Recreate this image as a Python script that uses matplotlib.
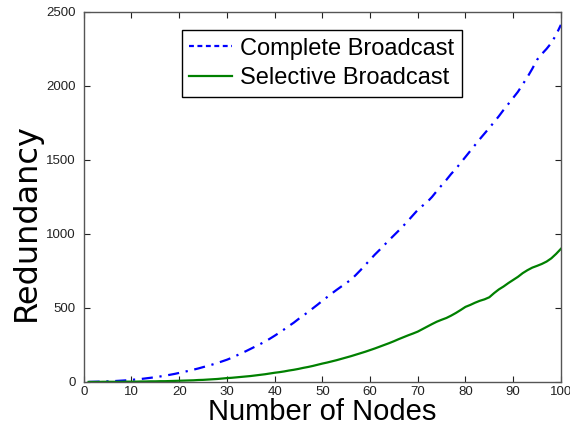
import matplotlib

matplotlib.use("Agg")
import matplotlib.pyplot as plt
from matplotlib.lines import Line2D

plt.rcParams["font.family"] = ["Liberation Sans", "DejaVu Sans"]

NODES = list(range(1, 101))

COMPLETE = [
    0, 1, 2, 3, 4, 5, 7, 9, 11, 14,
    17, 20, 24, 28, 32, 37, 42, 48, 54, 61,
    68, 75, 83, 91, 100, 109, 118, 128, 139, 150,
    163, 178, 193, 208, 224, 240, 256, 273, 292, 312,
    333, 355, 378, 400, 425, 448, 472, 497, 522, 548,
    573, 598, 622, 645, 668, 690, 722, 755, 790, 825,
    860, 892, 925, 958, 990, 1022, 1055, 1090, 1126, 1162,
    1190, 1216, 1250, 1290, 1328, 1365, 1405, 1440, 1480, 1520,
    1560, 1600, 1640, 1678, 1716, 1755, 1795, 1838, 1878, 1919,
    1960, 2010, 2060, 2115, 2176, 2215, 2250, 2290, 2345, 2412,
]

SELECTIVE = [
    0, 0, 0, 1, 1, 1, 1, 1, 2, 2,
    2, 3, 3, 4, 4, 5, 5, 6, 7, 8,
    9, 10, 11, 13, 14, 16, 18, 20, 23, 26,
    28, 31, 34, 37, 40, 44, 48, 52, 57, 62,
    66, 71, 77, 82, 88, 95, 101, 108, 116, 124,
    131, 139, 147, 156, 165, 174, 184, 194, 204, 215,
    226, 238, 250, 262, 275, 289, 302, 315, 327, 340,
    357, 374, 391, 407, 420, 432, 448, 466, 486, 507,
    520, 535, 548, 558, 572, 600, 625, 645, 668, 689,
    710, 735, 755, 772, 784, 797, 813, 835, 865, 899,
]

X_TICKS = list(range(0, 101, 10))
Y_TICKS = list(range(0, 2501, 500))

BLUE = "#0000ff"
GREEN = "#008000"

fig = plt.figure(figsize=(5.70, 4.38), dpi=100)
ax = fig.add_axes([0.147, 0.128, 0.837, 0.845])

ax.plot(NODES, COMPLETE, color=BLUE, linewidth=1.6, linestyle=(0, (5, 3, 1, 3)))
ax.plot(NODES, SELECTIVE, color=GREEN, linewidth=1.6, linestyle="-")

ax.set_xlim(0, 100)
ax.set_ylim(0, 2500)
ax.set_xticks(X_TICKS)
ax.set_yticks(Y_TICKS)
ax.tick_params(direction="in", top=True, right=True, length=4, width=0.8,
               labelsize=9.5, colors="#222222")
ax.tick_params(axis="y", pad=6)
ax.tick_params(axis="x", pad=3)
for spine in ax.spines.values():
    spine.set_color("#555555")
    spine.set_linewidth(1.0)

ax.set_xlabel("Number of Nodes", fontsize=21, labelpad=0)
# the y label is drawn a touch wider than the x label
fig.text(0.046, 0.493, "Redundancy", rotation=90, ha="center", va="center",
         fontsize=23, family=["DejaVu Sans"])

handles = [
    Line2D([], [], color=BLUE, linewidth=1.6, linestyle=(0, (2.2, 1.6))),
    Line2D([], [], color=GREEN, linewidth=1.6, linestyle="-"),
]
leg = ax.legend(handles, ["Complete Broadcast", "Selective Broadcast"],
                loc="upper left", bbox_to_anchor=(0.205, 0.951), borderaxespad=0,
                fontsize=17, handlelength=1.8, handletextpad=0.35,
                labelspacing=0.3, borderpad=0.33, fancybox=False,
                edgecolor="black", framealpha=1)
leg.get_frame().set_linewidth(1.0)

fig.savefig("out.png", dpi=100)
